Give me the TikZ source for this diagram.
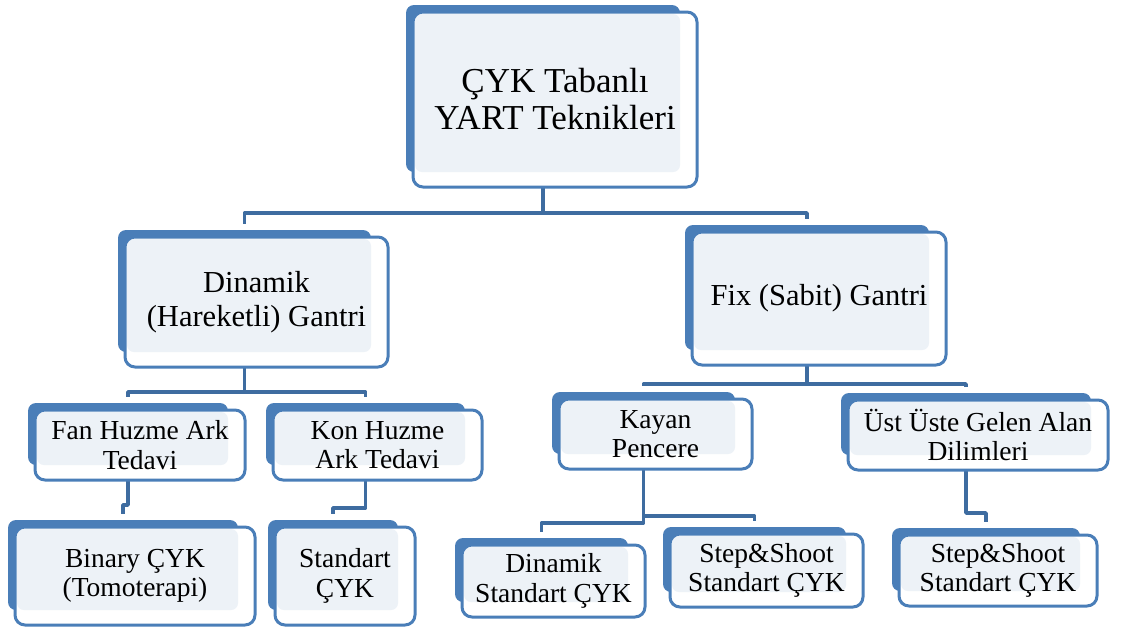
\documentclass[tikz,border=0pt]{standalone}
\usepackage{fontspec}
\setmainfont{Liberation Serif}
\definecolor{cykblue}{RGB}{74,126,184}
\definecolor{cykline}{RGB}{62,108,160}
\definecolor{cyklight}{RGB}{237,242,247}
\usepackage{tikz}
\usetikzlibrary{backgrounds}

% plate, frame and text of one box: name, plate corners, text
\newcommand{\cykbox}[7][]{%
  \node[plate,minimum width={(#5-#3)*1pt},minimum height={(#6-#4)*1pt}] (#2) at ({(#3+#5)/2},{(#4+#6)/2}) {};
  \fill[white,frame] (#3+7,#4+7) rectangle (#5+17,#6+15);
  \fill[cyklight,rounded corners=7pt] (#3+9,#4+9) rectangle (#5,#6);
  \draw[draw=cykblue,frame] (#3+7,#4+7) rectangle (#5+17,#6+15);
  \node[boxtext,#1] (#2-txt) at ({(#3+#5)/2+12},{(#4+#6)/2+11}) {#7};
}

\begin{document}
\begin{tikzpicture}[x=1pt,y=-1pt,
    plate/.style={fill=cykblue,rounded corners=8pt,inner sep=0pt,outer sep=0pt},
    frame/.style={line width=3pt,rounded corners=10pt},
    boxtext/.style={align=center,inner sep=0pt,font=\fontsize{27.5}{29.5}\selectfont},
    bigtext/.style={font=\fontsize{35}{37}\selectfont},
    midtext/.style={font=\fontsize{30.5}{34}\selectfont},
    conn/.style={draw=cykline,line width=3.8pt,line join=round,shorten >=6pt}]
  \useasboundingbox (0,0) rectangle (1122,633);

  \cykbox[bigtext]{top}{406}{5}{680}{172}{ÇYK Tabanlı\\YART Teknikleri}
  \cykbox[midtext]{dyn}{118}{230}{371}{352}{Dinamik\\(Hareketli) Gantri}
  \cykbox[midtext]{fix}{685}{225}{929}{350}{Fix (Sabit) Gantri}
  \cykbox{fan}{28}{403}{228}{465}{Fan Huzme Ark\\Tedavi}
  \cykbox{kon}{266}{403}{465}{465}{Kon Huzme\\Ark Tedavi}
  \cykbox{binary}{8}{520}{238}{610}{Binary ÇYK\\(Tomoterapi)}
  \cykbox{std}{268}{520}{398}{610}{Standart\\ÇYK}
  \cykbox{kayan}{552}{392}{735}{454}{Kayan\\Pencere}
  \cykbox{ust}{841}{393}{1091}{455}{Üst Üste Gelen Alan\\Dilimleri}
  \cykbox{dynstd}{455}{538}{628}{602}{Dinamik\\Standart ÇYK}
  \cykbox{ssa}{663}{527}{846}{592}{Step\&Shoot\\Standart ÇYK}
  \cykbox{ssb}{892}{528}{1080}{591}{Step\&Shoot\\Standart ÇYK}

  \begin{scope}[on background layer]
    \draw[conn] (top.south) -- ++(0,41) -| (dyn.north);
    \draw[conn] (top.south) -- ++(0,41) -| (fix.north);
    \draw[conn] (dyn.south) -- ++(0,40) -| (fan.north);
    \draw[conn] (dyn.south) -- ++(0,40) -| (kon.north);
    \draw[conn] (fix.south) -- ++(0,34) -| (kayan.north);
    \draw[conn] (fix.south) -- ++(0,34) -| (ust.north);
    \draw[conn] (fan.south) -- ++(0,40) -| (binary.north);
    \draw[conn] (kon.south) -- ++(0,43) -| (std.north);
    \draw[conn] (kayan.south) -- ++(0,69) -| (dynstd.north);
    \draw[conn] (kayan.south) -- ++(0,62) -| (ssa.north);
    \draw[conn] (ust.south) -- ++(0,58) -| (ssb.north);
  \end{scope}
\end{tikzpicture}
\end{document}
